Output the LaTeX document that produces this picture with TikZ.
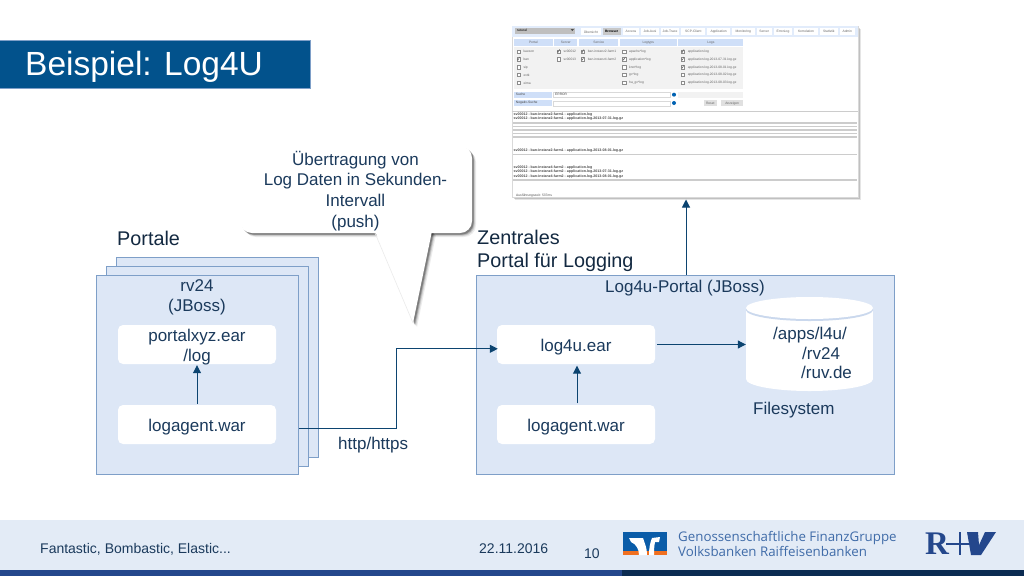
\documentclass[tikz,border=0pt]{standalone}
\usepackage{fontspec}
\setmainfont{Liberation Sans}
\newfontfamily\logofont{Open Sans}
\newfontfamily\rvfont{Liberation Serif}
\usetikzlibrary{arrows.meta,calc}
\definecolor{txt}{HTML}{1B3A5C}
\definecolor{line}{HTML}{0C4470}
\definecolor{panel}{HTML}{DDE7F6}
\definecolor{edge}{HTML}{7E9FC8}
\definecolor{titleblue}{HTML}{02528C}
\definecolor{foot}{HTML}{E3EBF6}
\definecolor{barblue}{HTML}{24478C}
\definecolor{barnavy}{HTML}{0B2B52}
\definecolor{vrblue}{HTML}{0A5CA8}
\definecolor{vrorange}{HTML}{F07020}
\definecolor{logotxt}{HTML}{3F6BA8}
\definecolor{rvblue}{HTML}{24478C}
\definecolor{hdr}{HTML}{CFDFF8}
\definecolor{grp}{HTML}{F2F2F2}
\newcommand{\lowered}[1]{\raisebox{-2.3pt}[\height][\depth]{#1}}
\tikzset{
  x=1pt,y=-1pt,
  panelbox/.style={draw=edge,fill=panel,line width=1.1pt,rectangle,inner sep=0pt,anchor=north west},
  whitebox/.style={fill=white,draw=none,rectangle,rounded corners=5pt,minimum width=158pt,minimum height=39pt,inner sep=0pt,align=center,text=txt,font=\fontsize{17}{20}\selectfont},
  label/.style={text=txt,inner sep=0pt,font=\fontsize{17}{20}\selectfont,align=center},
  leftlabel/.style={label,anchor=west,align=left},
  heading/.style={text=txt!70!black,inner sep=0pt,anchor=west,align=left,font=\fontsize{19.8}{23}\selectfont},
  foottext/.style={text=txt,inner sep=0pt,anchor=west,font=\fontsize{14}{16}\selectfont},
  conn/.style={draw=line,line width=1pt,-{Triangle[length=8pt,width=8pt]}},
  logotext/.style={text=logotxt,inner sep=0pt,anchor=west,font=\logofont\fontsize{13.3}{15}\selectfont},
  shot/.style={text=black!60,inner sep=0pt,font=\fontsize{3.3}{3.8}\selectfont},
  shothead/.style={shot,text=black!70,anchor=west,font=\bfseries\fontsize{3.6}{4}\selectfont},
  shotleft/.style={shot,anchor=west},
  check/.style={draw=black!45,fill=white,line width=.3pt},
  logline/.style={draw=black!20,line width=1.2pt},
  calloutshape/.pic={
    \fill[pic actions,rounded corners=12pt] (240,146) rectangle (472,233);
    \fill[pic actions] (375,231) -- (432,231) -- (413,323) -- cycle;
  },
}
\begin{document}
\begin{tikzpicture}
\useasboundingbox (0,0) rectangle (1024,576);
\fill[white] (0,0) rectangle (1024,576);

% title
\node[rectangle,fill=titleblue,draw=edge,line width=.4pt,anchor=north west,minimum width=311pt,minimum height=48pt,inner sep=0pt] (titlebar) at (-1,40) {};
\node[text=white,inner sep=0pt,anchor=west,font=\fontsize{33.5}{38}\selectfont] (title) at (25,67) {Beispiel: Log4U};

% footer
\fill[foot] (0,520) rectangle (1024,570);
\fill[barblue] (0,570) rectangle (622,576);
\fill[barnavy] (622,570) rectangle (1024,576);
\node[foottext] (f1) at (40,549) {Fantastic, Bombastic, Elastic...};
\node[foottext] (f2) at (479,549) {22.11.2016};
\node[foottext] (f3) at (584,554) {10};

% VR logo
\fill[vrblue] (622.5,532) rectangle (667,551);
\fill[vrorange] (622.5,551) rectangle (667,555);
\fill[white] (629,538) -- (643,538) .. controls (645,544) and (647,548) .. (647,555) -- (639,555) .. controls (639,549) and (636,544) .. (631,542) -- cycle;
\fill[white] (649,555) .. controls (649,548) and (650,543) .. (652,538) -- (660,537) -- (659,542) -- (655,542) .. controls (654,547) and (654,551) .. (654,555) -- cycle;
\node[logotext] (g1) at (678,538) {Genossenschaftliche FinanzGruppe};
\node[logotext] (g2) at (678,551) {Volksbanken Raiffeisenbanken};

% R+V logo
\node[text=rvblue,inner sep=0pt,anchor=west,font=\rvfont\bfseries\fontsize{33}{33}\selectfont] (rvr) at (925,544) {R};
\fill[rvblue] (946,542.5) rectangle (974,544.5);
\fill[rvblue] (959,532) rectangle (961,555);
\fill[rvblue] (967,532) -- (978,532) -- (979,545) -- (985,532) -- (996,532) -- (981,555) -- (971,555) -- cycle;

% stack left
\node[panelbox,minimum width=202pt,minimum height=200pt] (back2) at (116,257) {};
\node[panelbox,minimum width=202pt,minimum height=200pt] (back1) at (106,266) {};
\node[panelbox,minimum width=202pt,minimum height=199pt] (front) at (96,275) {};
\node[label] (rv) at (197,297.5) {rv24\\[0pt](JBoss)};
\node[whitebox] (portal) at (197,344.5) {\lowered{portalxyz.ear}\\\lowered{/log}};
\node[whitebox] (agent1) at (197,424.5) {\lowered{logagent.war}};
\draw[conn] ([yshift=1pt]agent1.north) -- ([yshift=-1pt]portal.south);

% right panel
\node[panelbox,minimum width=418pt,minimum height=199pt] (central) at (476,275) {};
\node[label] (l4u) at (685,288) {Log4u-Portal (JBoss)};
\node[whitebox] (ear) at (576,344.5) {\lowered{log4u.ear}};
\node[whitebox] (agent2) at (576,424.5) {\lowered{logagent.war}};
\draw[conn] ([xshift=1pt,yshift=1.5pt]agent2.north) -- ([xshift=1pt,yshift=-1.5pt]ear.south);

% cylinder
\fill[white] (746,311) rectangle (873,379);
\fill[white] (809.5,379) ellipse[x radius=63.5,y radius=12];
\fill[panel!80!edge] (809.5,310) ellipse[x radius=63.5,y radius=11];
\fill[white] (809.5,308) ellipse[x radius=63.5,y radius=11];
\node[inner sep=0pt,minimum width=127pt,minimum height=94pt] (disk) at (809.5,344) {};
\node[leftlabel] (p1) at (773,335) {/apps/l4u/};
\node[leftlabel] (p2) at (802,353) {/rv24};
\node[leftlabel] (p3) at (801,372) {/ruv.de};
\node[leftlabel] (fs) at (753,410) {Filesystem};
\draw[conn] ([xshift=2pt]ear.east) -- (disk.west |- ear.east);

% connector http
\coordinate (start) at (front.east |- 0,428);
\coordinate (inlet) at ([yshift=-4.3pt,xshift=1pt]ear.west);
\coordinate (bend) at (396,0);
\draw[conn] (start) -| (bend |- inlet) -- (inlet);
\node[leftlabel] (http) at (338,445) {http/https};

% headings
\node[heading] (h1) at (117,238) {Portale};
\node[heading] (h2) at (477,251) {Zentrales\\Portal für Logging};

% callout
\foreach \d/\o in {4/.08,3/.12,2.2/.18,1.5/.25}{
  \pic[black,opacity=\o,shift={(\d,\d)}] {calloutshape};
}
\pic[white] {calloutshape};
\node[draw=none,inner sep=0pt,minimum width=232pt,minimum height=87pt] (callout) at (356,189.5) {};
\draw[black!8,line width=.6pt] (375,233) -- (413,323);
\node[label] (c1) at (355.5,160) {Übertragung von};
\node[label] (c2) at (355.5,181) {Log Daten in Sekunden-};
\node[label] (c3) at (355.5,200) {Intervall};
\node[label] (c4) at (355.5,223) {(push)};

% screenshot
\foreach \d/\o in {3/.10,2/.16,1/.25}{\fill[black,opacity=\o] (512+\d,26+\d) rectangle (858+\d,197+\d);}
\node[rectangle,fill=white,draw=black!15,line width=.3pt,inner sep=0pt,anchor=north west,minimum width=346pt,minimum height=171pt] (shotbox) at (512,26) {};
\draw[conn] (686,274.5) -- (686,199.5);
\begin{scope}[x=.33333pt,y=-.33333pt,shift={(1500,45)}]
  \fill[hdr!60] (35,33) rectangle (1075,65);
  \fill[black!25] (45,38) rectangle (225,56);
  \node[shotleft,text=black!80] at (50,47) {\bfseries ratural};
  \fill[black!70] (212,42) -- (222,42) -- (217,48) -- cycle;
  \foreach \a/\b/\l in {243/302/Übersicht,308/362/Browser,368/418/Access,424/476/Job-Ausi,482/538/Job-Trace,544/616/SCP-Client,622/690/Application,696/764/Monitoring,770/815/Server,821/877/ErrorLog,883/953/Korrelation,959/1014/Statistik,1020/1064/Admin}{
    \fill[white] (\a,40) rectangle (\b,60);
    \node[shot] at ({(\a+\b)/2},50) {\l};
  }
  \fill[black!22] (308,40) rectangle (362,60);
  \node[shot,text=black] at (335,50) {\bfseries Browser};
  % filter panel
  \fill[grp] (42,95) rectangle (730,222);
  \foreach \a/\b/\l in {42/158/Portal,163/232/Server,238/355/Service,360/530/Logtyps,535/730/Logs}{
    \fill[hdr] (\a,72) rectangle (\b,92);
    \node[shot] at ({(\a+\b)/2},82) {\l};
  }
  \foreach \x/\y/\l in {50/110/kaeson,50/133/ban,50/157/sip,50/180/evtk,50/204/eima,
     170/110/sv00012,170/133/sv00013,243/110/ban-instanz2-farm1,243/133/ban-instanz4-farm2,
     367/110/apache*log,367/133/application*log,367/157/knot*log,367/180/gc*log,367/204/ha\_gc*log,
     543/110/application.log,543/133/application.log.2013-07-31.log.gz,543/157/application.log.2013-08-01.log.gz,543/180/application.log.2013-08-02.log.gz,543/204/application.log.2013-08-03.log.gz}{
    \filldraw[check] (\x,\y-6) rectangle +(10,10);
    \node[shotleft] at (\x+20,\y) {\l};
  }
  \foreach \x/\y in {50/133,170/110,243/110,243/133,367/133,543/110,543/133,543/157}{
    \draw[black!60,line width=.45pt] (\x+2,\y-2) -- (\x+4,\y+2) -- (\x+9,\y-7);
  }
  \fill[hdr] (42,230) rectangle (155,248);
  \node[shotleft,text=black!75] at (47,239) {Suche};
  \filldraw[black!15,fill=white,line width=.2pt] (160,232) rectangle (510,247);
  \node[shotleft,text=black!75] at (165,239) {ERROR};
  \fill[hdr] (42,255) rectangle (155,274);
  \node[shotleft,text=black!75] at (47,264) {Negativ-Suche};
  \filldraw[black!15,fill=white,line width=.2pt] (160,257) rectangle (510,272);
  \fill[blue!45!cyan!70!black] (522,239) circle (6);
  \fill[blue!45!cyan!70!black] (522,264) circle (6);
  \fill[grp] (535,230) rectangle (730,248);
  \fill[black!12] (612,255) rectangle (650,274);
  \node[shot] at (631,264.5) {Reset};
  \fill[black!12] (663,255) rectangle (730,274);
  \node[shot] at (696.5,264.5) {Anzeigen};
  \draw[black!20,line width=.3pt] (35,287) -- (1075,287);
  % log output
  \foreach \y/\l in {300/{sv00012 - ban-instanz2-farm1 - application.log},311/{sv00012 - ban-instanz2-farm1 - application.log.2013-07-31.log.gz},
     407/{sv00012 - ban-instanz2-farm1 - application.log.2013-08-01.log.gz},
     459/{sv00012 - ban-instanz4-farm2 - application.log},471/{sv00012 - ban-instanz4-farm2 - application.log.2013-07-31.log.gz},484/{sv00012 - ban-instanz4-farm2 - application.log.2013-08-01.log.gz}}{
    \node[shothead] at (40,\y) {\l};
  }
  \foreach \y in {324,334,345,356,366,419,495}{
    \draw[logline] (40,\y) -- (1072,\y);
  }
  \node[shotleft,text=black!70] at (48,541) {Ausführungszeit: 537ms};
\end{scope}
\end{tikzpicture}
\end{document}
